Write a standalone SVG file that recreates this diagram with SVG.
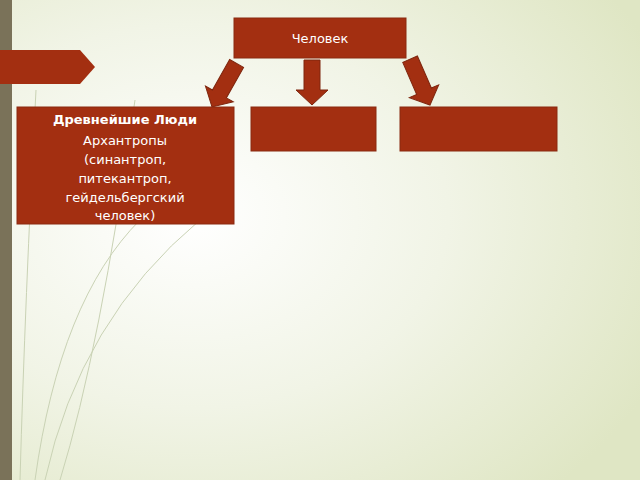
<svg xmlns="http://www.w3.org/2000/svg" width="640" height="480" viewBox="0 0 640 480">
<defs>
<radialGradient id="bg" cx="0.3" cy="0.45" r="0.8">
<stop offset="0" stop-color="#ffffff"/>
<stop offset="0.5" stop-color="#f1f4e6"/>
<stop offset="1" stop-color="#dfe6c4"/>
</radialGradient>
<path id="arr" d="M-8,0 H8 V-15 H16 L0,0 L-16,-15 H-8 Z"/>
</defs>
<style>
.box{fill:#a32f11;stroke:#8a2a10;stroke-width:1}
.ar{fill:#a32f11;stroke:#7e260e;stroke-width:1}
.t{font-family:"DejaVu Sans",sans-serif;fill:#fff;text-anchor:middle;font-size:13px}
.deco{stroke:#c9d2b4;fill:none;stroke-width:1}
</style>
<rect width="640" height="480" fill="url(#bg)"/>
<g class="deco">
<path d="M35,480 Q60,300 140,220"/>
<path d="M45,480 Q80,320 200,220"/>
<path d="M20,480 Q25,300 36,90"/>
<path d="M60,480 Q100,350 135,100"/>
</g>
<rect x="0" y="0" width="12" height="480" fill="#7a7259"/>
<polygon points="0,50 80,50 95,67 80,84 0,84" fill="#a32f11"/>
<g id="connectors">
<path class="ar" d="M-8,-45 H8 V-15 H16 L0,0 L-16,-15 H-8 Z" transform="translate(312,105)"/>
<path class="ar" d="M-8,-50 H8 V-15 H16 L0,0 L-16,-15 H-8 Z" transform="translate(212,107) rotate(29.5)"/>
<path class="ar" d="M-8,-50 H8 V-15 H16 L0,0 L-16,-15 H-8 Z" transform="translate(430,105) rotate(-23.5)"/>
</g>
<g id="n-human">
<rect class="box" x="234" y="18" width="172" height="40"/>
<text class="t" x="320" y="43">Человек</text>
</g>
<g id="n-ancient">
<rect class="box" x="17" y="107" width="217" height="117"/>
<text class="t" x="125" y="124" font-weight="bold">Древнейшие Люди</text>
<text class="t" x="125" y="145">Архантропы</text>
<text class="t" x="125" y="164">(синантроп,</text>
<text class="t" x="125" y="183">питекантроп,</text>
<text class="t" x="125" y="202">гейдельбергский</text>
<text class="t" x="125" y="220">человек)</text>
</g>
<g id="n-mid"><rect class="box" x="251" y="107" width="125" height="44"/></g>
<g id="n-right"><rect class="box" x="400" y="107" width="157" height="44"/></g>
</svg>
